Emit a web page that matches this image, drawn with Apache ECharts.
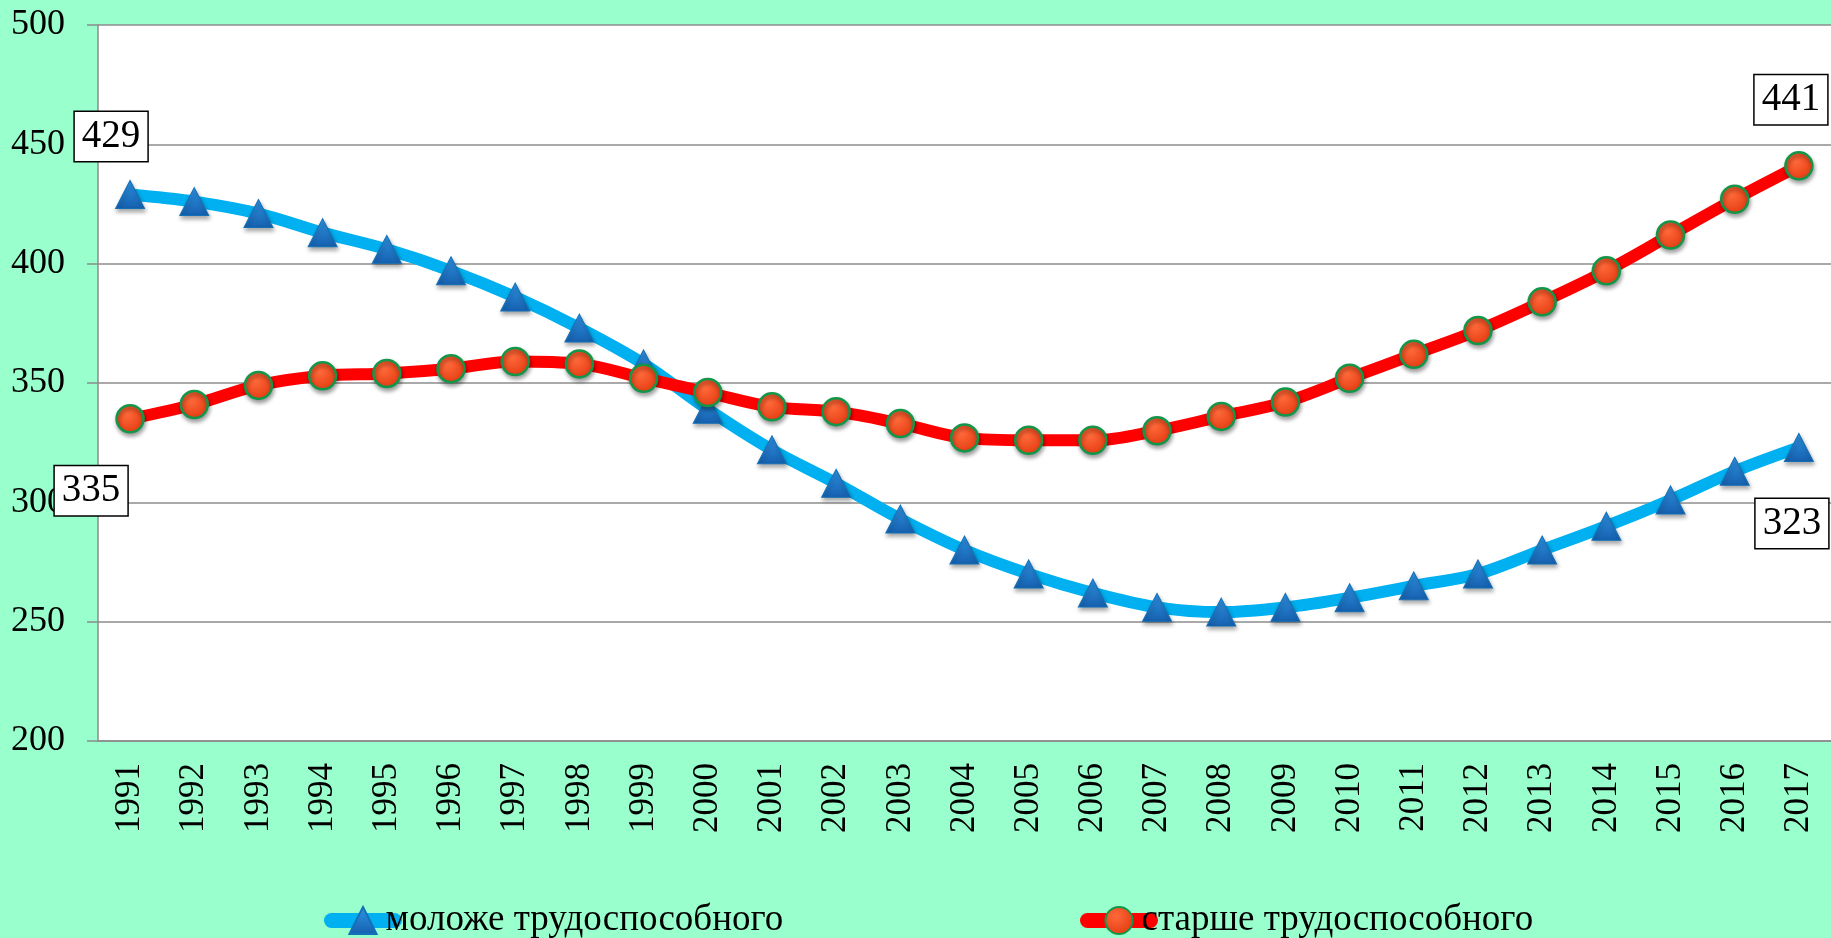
<!DOCTYPE html>
<html>
<head>
<meta charset="utf-8">
<script src="https://cdn.jsdelivr.net/npm/echarts@6/dist/echarts.min.js"></script>
<style>
html,body{margin:0;padding:0;background:#99FFCC;}
#c{width:1831px;height:938px;}
</style>
</head>
<body>
<div id="c"></div>
<script>
const years = ['1991','1992','1993','1994','1995','1996','1997','1998','1999','2000','2001','2002','2003','2004','2005','2006','2007','2008','2009','2010','2011','2012','2013','2014','2015','2016','2017'];
const youngerName = 'моложе трудоспособного';
const olderName = 'старше трудоспособного';
const younger = [429,426,421,413,406,397,386,373,358,339,322,308,293,280,270,262,256,254,256,260,265,270,280,290,301,313,323];
const older = [335,341,349,353,354,356,359,358,352,346,340,338,333,327,326,326,330,336,342,352,362,372,384,397,412,427,441];
const yTicks = {min:200, max:500, interval:50};

const FONT = '"Liberation Serif", "Times New Roman", serif';
const boxLabel = (offset) => ({
  show: true, position: 'inside', offset: offset,
  formatter: '{c}', color: '#000', fontFamily: FONT, fontSize: 39,
  backgroundColor: '#fff', borderColor: '#000', borderWidth: 1.5,
  padding: [7, 7, 3, 7]
});
function withLabels(vals, firstOff, lastOff) {
  return vals.map((v, i) => {
    if (i === 0) return {value: v, label: boxLabel(firstOff)};
    if (i === vals.length - 1) return {value: v, label: boxLabel(lastOff)};
    return v;
  });
}

const triColor = () => new echarts.graphic.LinearGradient(0, 0, 0, 1, [
  {offset: 0, color: '#2f95e4'}, {offset: 1, color: '#155fae'}]);
const circColor = () => new echarts.graphic.RadialGradient(0.4, 0.35, 0.7, [
  {offset: 0, color: '#ff6a3a'}, {offset: 1, color: '#e23a10'}]);

const chart = echarts.init(document.getElementById('c'), null, {renderer: 'canvas'});
const gray = '#8c8c8c';
const legendCommon = {top: 897, itemWidth: 63, itemHeight: 34, itemGap: 0,
  textStyle: {fontFamily: FONT, fontSize: 37, color: '#000', padding: [0,0,0,-14]}};
chart.setOption({
  backgroundColor: '#99FFCC',
  animation: false,
  grid: {left: 98, top: 25, width: 1737, height: 716, backgroundColor: '#fff', show: true, borderWidth: 0},
  legend: [
    Object.assign({data: [youngerName], left: 319,
      lineStyle: {width: 15, cap: 'round', color: '#00B0F0'}}, legendCommon),
    Object.assign({data: [olderName], left: 1075,
      lineStyle: {width: 15, cap: 'round', color: '#FF0000'}}, legendCommon)
  ],
  xAxis: {
    type: 'category', data: years, boundaryGap: true,
    axisLine: {lineStyle: {color: gray, width: 1.5}},
    axisTick: {length: 11, lineStyle: {color: gray, width: 1.5}},
    axisLabel: {rotate: 90, margin: 22, fontFamily: FONT, fontSize: 35, color: '#000'}
  },
  yAxis: {
    type: 'value', min: yTicks.min, max: yTicks.max, interval: yTicks.interval,
    axisLine: {show: true, lineStyle: {color: gray, width: 1.5}},
    axisTick: {show: true, length: 11, lineStyle: {color: gray, width: 1.5}},
    splitLine: {lineStyle: {color: gray, width: 1.5}},
    axisLabel: {margin: 33, fontFamily: FONT, fontSize: 36, color: '#000'}
  },
  series: [
    {
      name: youngerName, type: 'line', smooth: 0.35,
      data: withLabels(younger, [-19, -58], [-7, 76]),
      lineStyle: {color: '#00B0F0', width: 12, cap: 'round'},
      symbol: 'triangle', symbolSize: [29, 28],
      itemStyle: {
        color: triColor(),
        borderColor: '#1270b8', borderWidth: 1,
        shadowColor: 'rgba(0,0,0,0.35)', shadowBlur: 4, shadowOffsetY: 3, shadowOffsetX: 1
      },
      z: 2
    },
    {
      name: olderName, type: 'line', smooth: 0.35,
      data: withLabels(older, [-39, 72], [-8, -66]),
      lineStyle: {color: '#FF0000', width: 12, cap: 'round'},
      symbol: 'circle', symbolSize: 27,
      itemStyle: {
        color: circColor(),
        borderColor: '#12964a', borderWidth: 2.5,
        shadowColor: 'rgba(0,0,0,0.35)', shadowBlur: 4, shadowOffsetY: 3, shadowOffsetX: 1
      },
      z: 3
    }
  ]
});
</script>
</body>
</html>
